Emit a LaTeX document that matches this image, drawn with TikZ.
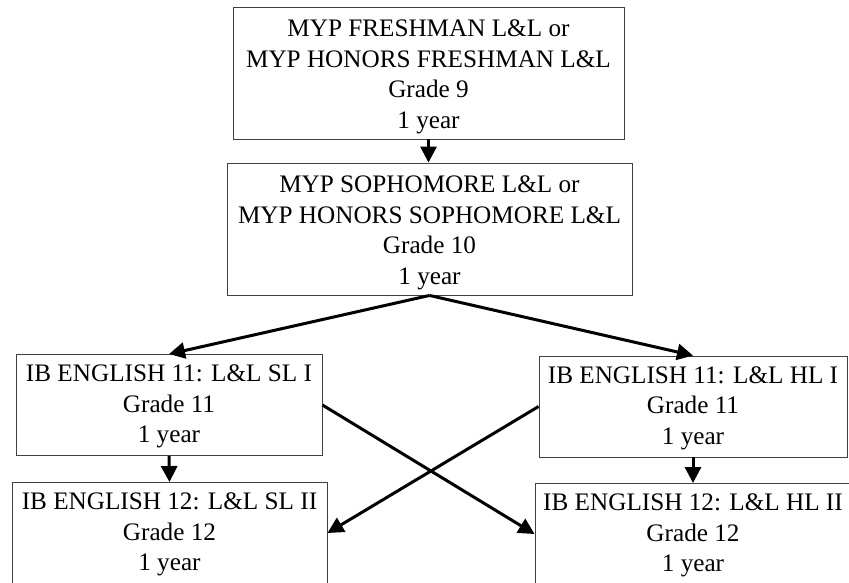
\documentclass[tikz,border=0pt]{standalone}
\usepackage{fontspec}
\setmainfont{Liberation Serif}
\usetikzlibrary{arrows.meta}
\begin{document}
\begin{tikzpicture}[x=1pt,y=-1pt,
    course/.style={draw=black!75,line width=0.9pt,align=center,inner sep=0pt,
      font=\fontsize{25.2}{30.5}\selectfont},
    tall/.style={text height=121pt,text depth=11pt},
    short/.style={text height=88pt,text depth=13pt},
    flow/.style={-{Triangle[length=16pt,width=16pt]},line width=3pt}]
            \useasboundingbox (0,0) rectangle (849,582);
            \node[course,tall,minimum width=391pt] (fresh) at (428.5,73)
                {MYP FRESHMAN L\&L or\\MYP HONORS FRESHMAN L\&L\\Grade 9\\1 year};
            \node[course,tall,minimum width=405pt] (soph) at (429.5,229)
                {MYP SOPHOMORE L\&L or\\MYP HONORS SOPHOMORE L\&L\\Grade 10\\1 year};
            \node[course,short,minimum width=306pt] (sla) at (169,405)
                {IB ENGLISH 11: L\&L SL I\\Grade 11\\1 year};
            \node[course,short,minimum width=308pt] (hla) at (693,406.5)
                {IB ENGLISH 11: L\&L HL I\\Grade 11\\1 year};
            \node[course,short,minimum width=315pt] (slb) at (169.5,533)
                {IB ENGLISH 12: L\&L SL II\\Grade 12\\1 year};
            \node[course,short,minimum width=316pt] (hlb) at (693,534)
                {IB ENGLISH 12: L\&L HL II\\Grade 12\\1 year};
            \draw[flow] (fresh.south) -- (fresh.south |- soph.north);
            \draw[flow] (soph.south) -- (sla.north);
            \draw[flow] (soph.south) -- (hla.north);
            \draw[flow] (sla.south) -- (slb.north);
            \draw[flow] (hla.south) -- (hlb.north);
            \draw[flow] (sla.east) -- (hlb.west);
            \draw[flow] (hla.west) -- (slb.east);
        \end{tikzpicture}
\end{document}
